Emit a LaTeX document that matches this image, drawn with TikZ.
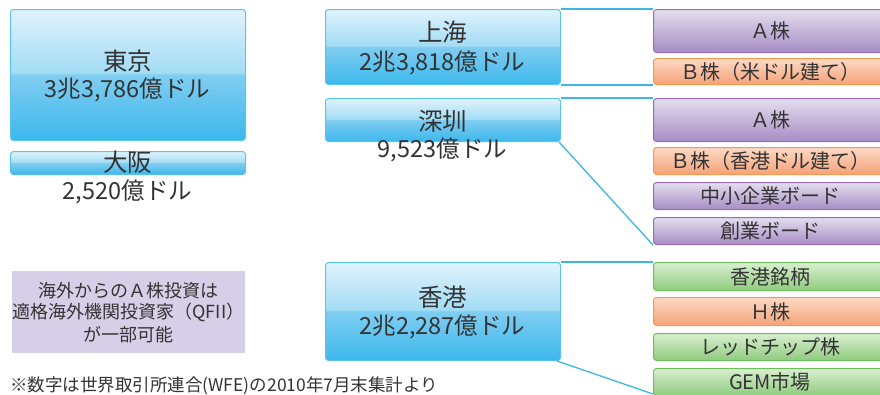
\documentclass[tikz,border=0pt]{standalone}
\usepackage{fontspec}
\setmainfont{Noto Sans CJK JP}
\definecolor{txtC}{HTML}{333333}
\definecolor{blueE}{HTML}{5CC3EE}
\definecolor{blueT}{HTML}{E0F3FC}
\definecolor{blueU}{HTML}{A3DCF5}
\definecolor{blueL}{HTML}{80CDF1}
\definecolor{blueB}{HTML}{3CB8EC}
\definecolor{lineC}{HTML}{3DB5E6}
\definecolor{purE}{HTML}{9B6DB6}
\definecolor{purT}{HTML}{E4DEEE}
\definecolor{purB}{HTML}{A68CC4}
\definecolor{orE}{HTML}{F39A52}
\definecolor{orT}{HTML}{FDD9C6}
\definecolor{orB}{HTML}{F4A277}
\definecolor{grE}{HTML}{6FBF5F}
\definecolor{grT}{HTML}{D9EFD0}
\definecolor{grB}{HTML}{8FCB7E}
\definecolor{noteC}{HTML}{D5D0E8}
\pgfdeclareverticalshading{glossblue}{100bp}{color(0bp)=(blueB); color(25bp)=(blueB); color(50bp)=(blueL); color(51bp)=(blueU); color(75bp)=(blueT); color(100bp)=(blueT)}
\newcommand\myfs[1]{\fontsize{#1}{#1}\selectfont}
\tikzset{
  x=1pt, y=-1pt,
  boxbase/.style={rounded corners=3pt, line width=1pt, inner sep=0pt, anchor=north west, text=txtC},
  bluebox/.style={boxbase, draw=blueE, shade, shading=glossblue},
  purbox/.style={boxbase, draw=purE, top color=purT, bottom color=purB, font=\myfs{20}},
  orbox/.style={boxbase, draw=orE, top color=orT, bottom color=orB, font=\myfs{20}},
  grbox/.style={boxbase, draw=grE, top color=grT, bottom color=grB, font=\myfs{20}},
  titletxt/.style={text=txtC, inner sep=0pt, font=\myfs{24.5}},
  amttxt/.style={text=txtC, inner sep=0pt, font=\myfs{23.5}},
  conn/.style={draw=lineC, line width=1.3pt},
}
\newcommand\bbox[5]{\node[bluebox, minimum width={(#4-#2)*1pt}, minimum height={(#5-#3)*1pt}] (#1) at (#2,#3) {};}
\newcommand\rbox[5]{\node[#2, minimum width=233pt, minimum height={(#4-#3)*1pt}] (#1) at (653,#3) {#5};}
\begin{document}
\begin{tikzpicture}
\useasboundingbox (0,0) rectangle (880,394);
% left city boxes
\bbox{tokyo}{10}{9}{245}{140}
\node[titletxt] (tokyoT) at (127.5,61) {東京};
\node[amttxt] (tokyoA) at (127.5,90) {3兆3,786億ドル};
\bbox{osaka}{10}{151}{245}{174}
\node[titletxt] (osakaT) at (127.5,162) {大阪};
\node[amttxt] (osakaA) at (127.5,192) {2,520億ドル};
% middle city boxes
\bbox{sh}{325}{9}{560}{84}
\node[titletxt] (shT) at (442.5,32) {上海};
\node[amttxt] (shA) at (442.5,63) {2兆3,818億ドル};
\bbox{sz}{325}{98}{560}{141}
\node[titletxt] (szT) at (442.5,121) {深圳};
\node[amttxt] (szA) at (442.5,150) {9,523億ドル};
\bbox{hk}{325}{262}{560}{360}
\node[titletxt] (hkT) at (442.5,297) {香港};
\node[amttxt] (hkA) at (442.5,327) {2兆2,287億ドル};
% right boxes
\rbox{sha}{purbox}{9}{52}{Ａ株}
\rbox{shb}{orbox}{58}{84}{Ｂ株（米ドル建て）}
\rbox{sza}{purbox}{98}{141}{Ａ株}
\rbox{szb}{orbox}{147}{174}{Ｂ株（香港ドル建て）}
\rbox{szc}{purbox}{182}{209}{中小企業ボード}
\rbox{szd}{purbox}{217}{244}{創業ボード}
\rbox{hka}{grbox}{262}{290}{香港銘柄}
\rbox{hkb}{orbox}{297}{325}{Ｈ株}
\rbox{hkc}{grbox}{333}{360}{レッドチップ株}
\rbox{hkd}{grbox}{368}{395}{GEM市場}
% connectors
\draw[conn] (sh.north east) -- (sha.north west);
\draw[conn] (sh.south east) -- (shb.south west);
\draw[conn] (sz.north east) -- (sza.north west);
\draw[conn] ([xshift=-2pt]sz.south east) -- (szd.south west);
\draw[conn] (hk.north east) -- (hka.north west);
\draw[conn] ([xshift=-4pt]hk.south east) -- ([yshift=2pt]hkd.south west);
% note
\node[fill=noteC, minimum width=233pt, minimum height=82pt, anchor=north west, inner sep=0pt] (note) at (12,271) {};
\node[text=txtC, align=center, font=\myfs{18}, inner sep=0pt] (noteT) at (128.5,312.5) {海外からのＡ株投資は\\[3.5pt]適格海外機関投資家（QFII）\\[3.5pt]が一部可能};
\node[text=txtC, anchor=west, font=\myfs{17.5}, inner sep=0pt] (foot) at (10,385.5) {※数字は世界取引所連合(WFE)の2010年7月末集計より};
\end{tikzpicture}
\end{document}
